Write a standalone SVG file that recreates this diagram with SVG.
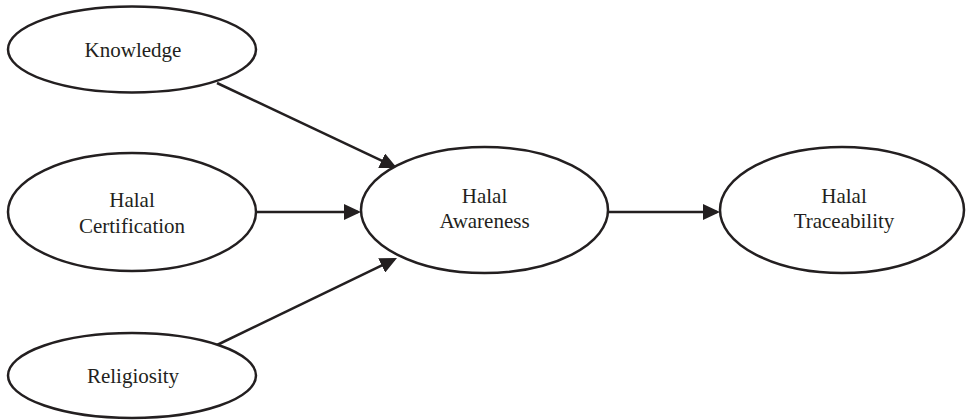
<svg xmlns="http://www.w3.org/2000/svg" width="966" height="420" viewBox="0 0 966 420">
<style>
.node ellipse{fill:#fff;stroke:#231f20;stroke-width:2.5}
.node text{font-family:"Liberation Serif","Times New Roman",serif;font-size:21px;fill:#231f20;text-anchor:middle}
.edge{stroke:#231f20;stroke-width:2.5;fill:none;marker-end:url(#arr)}
</style>
<defs>
<marker id="arr" markerUnits="userSpaceOnUse" markerWidth="17" markerHeight="16" refX="14" refY="8" orient="auto">
<path d="M0,0 L17,8 L0,16 Z" fill="#231f20"/>
</marker>
</defs>
<rect width="966" height="420" fill="#fff"/>
<g id="edges">
<line class="edge" x1="217" y1="83" x2="394.3" y2="166.7"/>
<line class="edge" x1="257" y1="212" x2="358" y2="212"/>
<line class="edge" x1="217" y1="345" x2="394.3" y2="259.3"/>
<line class="edge" x1="608" y1="212" x2="717" y2="212"/>
</g>
<g id="knowledge" class="node">
<ellipse cx="132" cy="49.5" rx="124" ry="43"/>
<text x="133" y="57">Knowledge</text>
</g>
<g id="certification" class="node">
<ellipse cx="132" cy="212" rx="124" ry="59"/>
<text x="132" y="207">Halal</text>
<text x="132" y="233">Certification</text>
</g>
<g id="religiosity" class="node">
<ellipse cx="132" cy="375.5" rx="124" ry="42.5"/>
<text x="133" y="383">Religiosity</text>
</g>
<g id="awareness" class="node">
<ellipse cx="484.5" cy="210" rx="123.5" ry="63"/>
<text x="484.5" y="203">Halal</text>
<text x="484.5" y="228">Awareness</text>
</g>
<g id="traceability" class="node">
<ellipse cx="842" cy="210" rx="122" ry="63"/>
<text x="844" y="203">Halal</text>
<text x="844" y="228">Traceability</text>
</g>
</svg>
